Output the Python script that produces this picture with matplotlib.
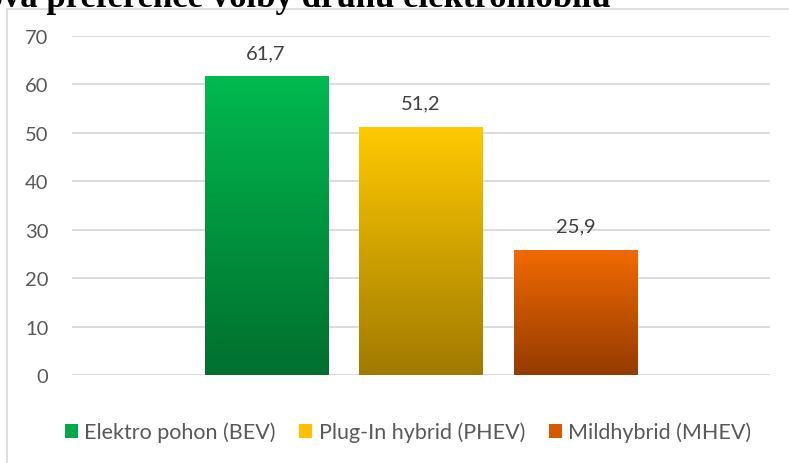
import numpy as np
import matplotlib
matplotlib.use("Agg")
import matplotlib.pyplot as plt
from matplotlib.patches import Rectangle
from matplotlib.colors import LinearSegmentedColormap

categories = ["Elektro pohon (BEV)", "Plug-In hybrid (PHEV)", "Mildhybrid (MHEV)"]
values = [61.7, 51.2, 25.9]
labels = ["61,7", "51,2", "25,9"]
yticks = [0, 10, 20, 30, 40, 50, 60, 70]
title = "Celková preference volby druhu elektromobilu"

top_colors = ["#00BA4F", "#FFCA00", "#F26A00"]
bot_colors = ["#006F2E", "#A07A00", "#953B00"]
legend_colors = ["#00A848", "#FFC000", "#D45A00"]

W, H = 789, 464
fig = plt.figure(figsize=(W / 100, H / 100), dpi=100)
fig.patch.set_facecolor("white")

# chart frame
fig.add_artist(Rectangle((7 / W, -0.05), 1.2, 1 - 10 / H + 0.05, transform=fig.transFigure,
                         fill=False, edgecolor="#D9D9D9", linewidth=1.2))

# title (clipped at top like in reference)
fig.text(611 / W, 1 - 7 / H, title, ha="right", va="baseline",
         fontsize=25, fontweight="bold", family="Liberation Serif", color="#000000")

left, right = 72 / W, 770 / W
bottom, top = 1 - 376 / H, 1 - 37 / H
ax = fig.add_axes([left, bottom, right - left, top - bottom])
ax.set_yticks(yticks)
ax.set_yticklabels([str(t) for t in yticks], fontsize=14.5, family="Lato", color="#595959")
ax.tick_params(axis="y", length=0, pad=17)
ax.set_xticks([])
for s in ax.spines.values():
    s.set_visible(False)
ax.grid(axis="y", color="#D9D9D9", linewidth=1.3)
ax.set_axisbelow(True)

x = np.arange(len(values))
bars = ax.bar(x, values, width=0.794, color="none", zorder=2)
grad = np.linspace(0, 1, 256).reshape(-1, 1)
for b, tc, bc, lab in zip(bars, top_colors, bot_colors, labels):
    cmap = LinearSegmentedColormap.from_list("g", [bc, tc])
    bx, by, bw, bh = b.get_x(), b.get_y(), b.get_width(), b.get_height()
    im = ax.imshow(grad, extent=[bx, bx + bw, by, by + bh], origin="lower",
                   cmap=cmap, aspect="auto", zorder=2)
    im.set_clip_path(b)
    ax.annotate(lab, (bx + bw / 2, bh), xytext=(0, 11), textcoords="offset points",
                ha="center", va="bottom", fontsize=14.5, family="Lato", color="#404040")
ax.set_xlim(-1.252, 3.252)
ax.set_ylim(0, 70)

handles = [Rectangle((0, 0), 1, 1, facecolor=c) for c in legend_colors]
fig.legend(handles, categories, loc="center", bbox_to_anchor=(408 / W, 1 - 433 / H),
           ncol=3, frameon=False, prop={"family": "Lato", "size": 15.5},
           labelcolor="#595959", handlelength=0.6, handleheight=0.6,
           handletextpad=0.3, columnspacing=1.1)

fig.savefig("out.png", dpi=100)
